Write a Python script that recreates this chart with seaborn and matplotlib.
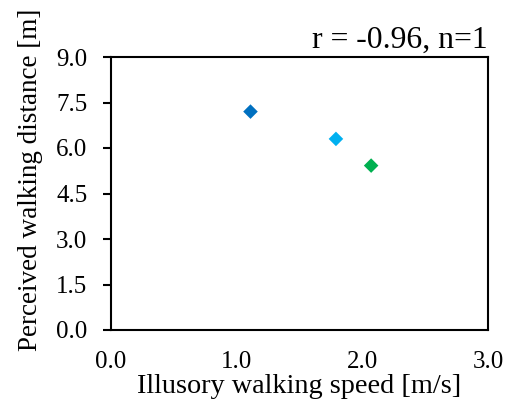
import matplotlib
matplotlib.use("Agg")
import matplotlib.pyplot as plt
import seaborn as sns
import pandas as pd

# values
speed = [1.11, 1.79, 2.07]
distance = [7.20, 6.30, 5.42]
condition = ["A", "B", "C"]
colors = ["#0070C0", "#00B0F0", "#00B050"]
x_ticks = [0.0, 1.0, 2.0, 3.0]
y_ticks = [0.0, 1.5, 3.0, 4.5, 6.0, 7.5, 9.0]
title = "r = -0.96, n=1"

sns.set_theme(style="white")
plt.rcParams["font.family"] = ["Liberation Serif", "DejaVu Serif"]

df = pd.DataFrame({"speed": speed, "distance": distance, "condition": condition})

fig = plt.figure(figsize=(5.05, 4.0), dpi=100)
ax = fig.add_axes([111 / 505, 70 / 400, 377 / 505, 273 / 400])

sns.scatterplot(data=df, x="speed", y="distance", hue="condition",
                palette=colors, marker="D", s=55, edgecolor="none",
                legend=False, ax=ax)

ax.set_xlim(0, 3)
ax.set_ylim(0, 9)
ax.set_xticks(x_ticks)
ax.set_yticks(y_ticks)
ax.set_xticklabels([f"{v:.1f}" for v in x_ticks], fontsize=18, color="black")
ax.set_yticklabels([f"{v:.1f}" for v in y_ticks], fontsize=18, color="black")
ax.tick_params(axis="y", direction="out", length=6, width=1.5,
               left=True, color="black", pad=11)
ax.tick_params(axis="x", length=0, pad=15)
for sp in ax.spines.values():
    sp.set_color("black")
    sp.set_linewidth(1.5)

ax.set_xlabel("Illusory walking speed [m/s]", fontsize=20.3, labelpad=1,
              color="black")
ax.set_ylabel("Perceived walking distance [m]", fontsize=19.5, color="black")
# label sits a bit above the axes centre in the reference
ax.yaxis.set_label_coords(-0.18, 0.55)
ax.set_title(title, loc="right", fontsize=22.8, pad=6.5, color="black")

fig.savefig("out.png", dpi=100)
